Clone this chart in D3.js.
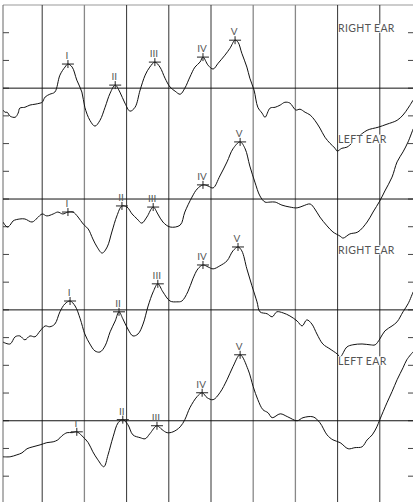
<!DOCTYPE html>
<html><head><meta charset="utf-8">
<script src="https://cdn.jsdelivr.net/npm/d3@7"></script>
<style>html,body{margin:0;padding:0;background:#fff;}svg{display:block;}</style>
</head><body>
<svg id="c" width="413" height="502"></svg>
<script>
// Time (ms) vs amplitude (divisions relative to each trace baseline)
const traceNames = ["RIGHT EAR","LEFT EAR","RIGHT EAR","LEFT EAR"];
const traceOffsets = [0,-4,-8,-12];
const peakLabels = ["I","II","III","IV","V"];
const gridTimes = [1,2,3,4,5,6,7,8,9];
const grayGrid = [2,6,7];

const right1 = [[0.07,-0.79],[0.12,-0.87],[0.17,-0.87],[0.24,-1.01],[0.36,-1.05],[0.43,-0.90],[0.47,-0.72],[0.59,-0.69],[0.71,-0.61],[0.83,-0.58],[0.95,-0.54],[1.00,-0.51],[1.07,-0.32],[1.18,-0.22],[1.30,-0.14],[1.42,0.47],[1.54,0.76],[1.61,0.87],[1.71,0.76],[1.82,0.29],[1.94,-0.14],[2.01,-0.69],[2.13,-1.16],[2.25,-1.37],[2.37,-1.16],[2.49,-0.69],[2.61,-0.18],[2.73,0.11],[2.84,-0.14],[2.96,-0.54],[3.08,-0.83],[3.20,-0.69],[3.32,-0.07],[3.44,0.47],[3.55,0.76],[3.67,0.94],[3.79,0.76],[3.91,0.36],[4.03,0.04],[4.15,-0.11],[4.27,-0.22],[4.38,0],[4.50,0.40],[4.62,0.76],[4.74,0.94],[4.81,1.12],[4.93,0.83],[5.05,0.69],[5.17,0.90],[5.33,1.19],[5.45,1.44],[5.57,1.73],[5.64,1.66],[5.73,1.26],[5.85,0.76],[5.92,0.36],[6.02,-0.07],[6.11,-0.69],[6.21,-0.90],[6.28,-1.05],[6.40,-0.72],[6.52,-0.69],[6.64,-0.61],[6.75,-0.51],[6.87,-0.54],[7.01,-0.79],[7.11,-0.76],[7.23,-0.87],[7.35,-0.97],[7.46,-1.16],[7.58,-1.44],[7.70,-1.77],[7.82,-1.99],[7.94,-2.17],[7.99,-2.27],[8.10,-2.17],[8.22,-2.13],[8.36,-1.95],[8.48,-1.77],[8.70,-1.52],[8.96,-1.41],[9.17,-1.30],[9.41,-1.16],[9.55,-0.97],[9.67,-0.72],[9.79,-0.43]];
const left1 = [[0.07,-0.83],[0.17,-1.01],[0.24,-0.94],[0.31,-0.79],[0.47,-0.72],[0.59,-0.72],[0.76,-0.83],[0.88,-0.69],[1.00,-0.54],[1.11,-0.61],[1.26,-0.54],[1.37,-0.47],[1.49,-0.54],[1.61,-0.47],[1.73,-0.47],[1.85,-0.65],[1.97,-0.90],[2.09,-1.08],[2.20,-1.44],[2.30,-1.73],[2.42,-1.95],[2.54,-1.73],[2.65,-1.19],[2.77,-0.61],[2.89,-0.25],[3.01,-0.29],[3.13,-0.54],[3.25,-0.72],[3.36,-0.87],[3.48,-0.65],[3.63,-0.29],[3.74,-0.54],[3.86,-0.83],[4.03,-1.01],[4.27,-0.94],[4.38,-0.47],[4.55,0.07],[4.67,0.36],[4.81,0.51],[4.93,0.47],[5.05,0.40],[5.21,0.83],[5.38,1.34],[5.52,1.81],[5.69,2.06],[5.81,1.81],[5.92,1.19],[6.04,0.61],[6.16,0.11],[6.28,-0.11],[6.40,-0.11],[6.52,-0.11],[6.68,-0.22],[6.87,-0.29],[7.04,-0.32],[7.18,-0.25],[7.35,-0.18],[7.46,-0.36],[7.58,-0.65],[7.75,-0.97],[7.89,-1.19],[8.06,-1.34],[8.13,-1.41],[8.29,-1.26],[8.48,-1.19],[8.70,-0.83],[8.84,-0.47],[9.00,-0.07],[9.12,0.29],[9.29,0.79],[9.41,1.34],[9.55,1.70],[9.67,2.06],[9.79,2.53]];
const right2 = [[0.07,-1.16],[0.24,-1.23],[0.36,-0.97],[0.47,-0.94],[0.59,-1.08],[0.71,-0.94],[0.83,-0.97],[0.95,-0.76],[1.07,-0.58],[1.18,-0.61],[1.30,-0.51],[1.42,-0.07],[1.54,0.22],[1.66,0.32],[1.78,0.14],[1.90,-0.32],[2.01,-0.87],[2.13,-1.23],[2.25,-1.48],[2.37,-1.52],[2.49,-1.30],[2.61,-0.79],[2.73,-0.40],[2.82,-0.07],[2.91,-0.32],[3.03,-0.69],[3.15,-0.94],[3.27,-0.87],[3.39,-0.51],[3.51,0.14],[3.63,0.65],[3.74,0.94],[3.86,0.65],[4.03,0.32],[4.19,0.29],[4.31,0.32],[4.45,0.65],[4.57,1.12],[4.69,1.48],[4.81,1.62],[4.93,1.55],[5.05,1.48],[5.21,1.59],[5.38,1.77],[5.52,2.13],[5.64,2.27],[5.73,2.13],[5.85,1.48],[5.97,0.87],[6.09,0.29],[6.16,-0.07],[6.33,-0.14],[6.45,-0.25],[6.56,-0.07],[6.71,-0.11],[6.87,-0.22],[7.04,-0.40],[7.16,-0.58],[7.27,-0.36],[7.39,-0.51],[7.51,-0.87],[7.65,-1.23],[7.82,-1.41],[7.99,-1.59],[8.06,-1.70],[8.22,-1.34],[8.36,-1.26],[8.58,-1.23],[8.77,-1.26],[8.89,-1.26],[9.00,-1.05],[9.12,-0.76],[9.29,-0.58],[9.41,-0.43],[9.55,-0.07],[9.67,0.22],[9.79,0.65]];
const left2 = [[0.07,-1.30],[0.24,-1.30],[0.40,-1.23],[0.52,-1.16],[0.64,-1.01],[0.78,-0.94],[0.95,-0.87],[1.11,-0.79],[1.26,-0.76],[1.37,-0.69],[1.47,-0.54],[1.59,-0.43],[1.71,-0.43],[1.82,-0.40],[1.94,-0.54],[2.09,-0.79],[2.20,-1.12],[2.32,-1.41],[2.46,-1.66],[2.56,-1.23],[2.68,-0.58],[2.80,-0.07],[2.91,0.04],[3.03,-0.14],[3.15,-0.51],[3.32,-0.61],[3.44,-0.65],[3.55,-0.47],[3.72,-0.18],[3.84,-0.32],[3.96,-0.43],[4.10,-0.40],[4.27,-0.22],[4.38,0.04],[4.50,0.47],[4.67,0.87],[4.79,1.01],[4.91,0.83],[5.05,0.76],[5.21,1.01],[5.38,1.48],[5.52,1.95],[5.69,2.38],[5.88,1.84],[6.00,1.23],[6.11,0.76],[6.23,0.40],[6.35,0.29],[6.45,0.11],[6.64,0.25],[6.82,0.14],[7.04,0],[7.18,0.11],[7.42,0.14],[7.58,-0.07],[7.75,-0.51],[7.89,-0.69],[8.06,-0.79],[8.25,-1.01],[8.41,-0.97],[8.58,-0.94],[8.70,-0.69],[8.82,-0.51],[8.93,-0.22],[9.00,0.04],[9.17,0.65],[9.29,1.05],[9.41,1.48],[9.55,1.91],[9.64,2.20],[9.79,2.49]];
const traces = [right1, left1, right2, left2];

const peaks1 = [[1.61,0.87],[2.73,0.11],[3.67,0.94],[4.81,1.12],[5.57,1.73]];
const peaks2 = [[1.61,-0.47],[2.89,-0.25],[3.63,-0.29],[4.81,0.51],[5.69,2.06]];
const peaks3 = [[1.66,0.32],[2.82,-0.07],[3.74,0.94],[4.81,1.62],[5.64,2.27]];
const peaks4 = [[1.82,-0.40],[2.91,0.04],[3.72,-0.18],[4.79,1.01],[5.69,2.38]];
const peaks = [peaks1, peaks2, peaks3, peaks4];

const W = 413, H = 502;
const plotLeft = 3, plotRight = 413, plotTop = 5;
const x = d3.scaleLinear().domain([0,10]).range([0,422]);
const y = d3.scaleLinear().domain([3,-15]).range([5,503.9]);
const svg = d3.select("#c");
const fontFam = "Lato, 'Open Sans', sans-serif";

svg.append("defs").append("clipPath").attr("id","clip")
  .append("rect").attr("x",plotLeft).attr("y",plotTop).attr("width",plotRight-plotLeft).attr("height",H-plotTop);

// frame
svg.append("line").attr("x1",plotLeft).attr("x2",plotRight).attr("y1",plotTop).attr("y2",plotTop)
  .attr("stroke","#999").attr("stroke-width",1.2);
svg.append("line").attr("x1",plotLeft).attr("x2",plotLeft).attr("y1",plotTop).attr("y2",H)
  .attr("stroke","#666").attr("stroke-width",1);

// vertical grid
svg.append("g").selectAll("line").data(gridTimes).join("line")
  .attr("x1",d=>x(d)).attr("x2",d=>x(d)).attr("y1",plotTop).attr("y2",H)
  .attr("stroke",d=>grayGrid.includes(d)?"#888":"#333")
  .attr("stroke-width",d=>grayGrid.includes(d)?1.3:1);

// ticks left and right
const tickVals = d3.range(2,-16,-1);
svg.append("g").selectAll("line").data(tickVals).join("line")
  .attr("x1",plotLeft).attr("x2",plotLeft+6).attr("y1",d=>y(d)).attr("y2",d=>y(d))
  .attr("stroke","#444").attr("stroke-width",1);
svg.append("g").selectAll("line").data(tickVals).join("line")
  .attr("x1",plotRight-5).attr("x2",plotRight).attr("y1",d=>y(d)).attr("y2",d=>y(d))
  .attr("stroke","#444").attr("stroke-width",1);

// baselines
svg.append("g").selectAll("line").data(traceOffsets).join("line")
  .attr("x1",plotLeft).attr("x2",plotRight).attr("y1",d=>y(d)).attr("y2",d=>y(d))
  .attr("stroke","#111").attr("stroke-width",1);

// waveforms
const line = d3.line().x(d=>x(d[0])).curve(d3.curveCatmullRom.alpha(0.5));
const g = svg.append("g").attr("clip-path","url(#clip)");
traces.forEach((tr,i)=>{
  g.append("path").datum(tr)
    .attr("d", line.y(d=>y(d[1]+traceOffsets[i])))
    .attr("fill","none").attr("stroke","#111").attr("stroke-width",1);
});

// ear labels with white knock-out background
const lg = svg.append("g");
traceNames.forEach((name,i)=>{
  const bg = lg.append("rect").attr("fill","#fff");
  const t = lg.append("text")
    .attr("x",x(8)+0.5).attr("y",y(traceOffsets[i]+2)-0.5)
    .attr("font-family",fontFam).attr("font-size",10.5).attr("letter-spacing",0.35)
    .attr("fill","#555").text(name);
  const b = t.node().getBBox();
  bg.attr("x",b.x).attr("y",b.y+1.5).attr("width",b.width).attr("height",b.height-3);
});

// peak markers
peaks.forEach((pk,i)=>{
  const pg = svg.append("g");
  pk.forEach((p,j)=>{
    const px = x(p[0]), py = y(p[1]+traceOffsets[i]);
    pg.append("line").attr("x1",px-6).attr("x2",px+6).attr("y1",py).attr("y2",py)
      .attr("stroke","#222").attr("stroke-width",1);
    pg.append("line").attr("x1",px).attr("x2",px).attr("y1",py-4).attr("y2",py+4)
      .attr("stroke","#222").attr("stroke-width",1);
    pg.append("text").attr("x",px-1).attr("y",py-5).attr("text-anchor","middle")
      .attr("font-family",fontFam).attr("font-size",10)
      .attr("fill","#555").text(peakLabels[j]);
  });
});
</script>
</body></html>
